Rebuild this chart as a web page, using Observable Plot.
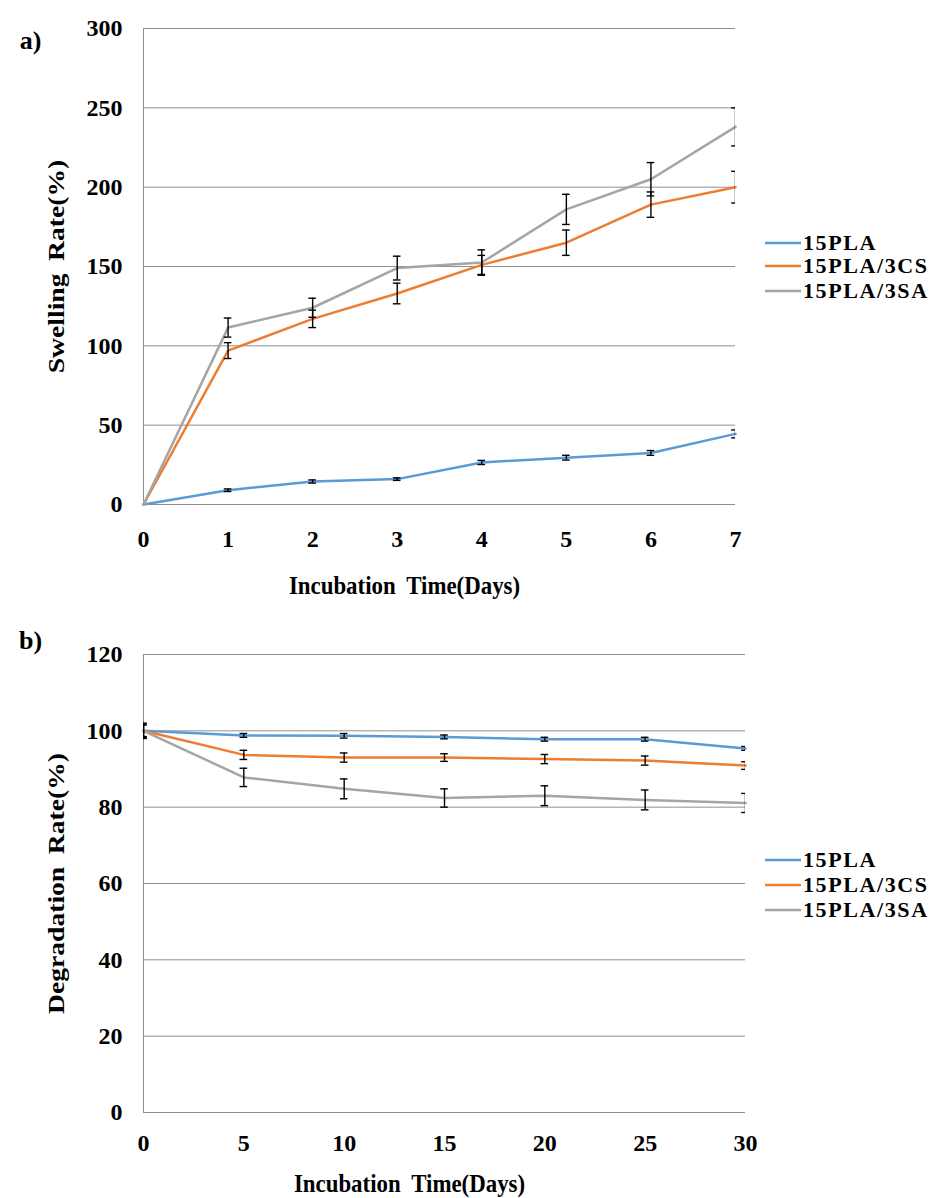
<!DOCTYPE html>
<html>
<head>
<meta charset="utf-8">
<script src="https://cdn.jsdelivr.net/npm/d3@7"></script>
<script src="https://cdn.jsdelivr.net/npm/@observablehq/plot@0.6"></script>
<style>
  body { margin: 0; background: #fff; }
  #wrap { position: relative; width: 933px; height: 1198px; background: #fff; font-family: "Liberation Serif", "Times New Roman", serif; font-weight: bold; }
  .panel { position: absolute; left: 0; }
  .legend-row { position: absolute; height: 24px; display: flex; align-items: center; font-size: 22px; letter-spacing: 1.6px; color: #000; white-space: nowrap; }
  .legend-row svg { margin-right: 2px; }
</style>
</head>
<body>
<div id="wrap"></div>
<script>
// ---- Data ----
const seriesNames = ["15PLA", "15PLA/3CS", "15PLA/3SA"];
const seriesColors = ["#5B9BD5", "#ED7D31", "#A5A5A5"];

// Panel a: swelling rate
const daysA = [0, 1, 2, 3, 4, 5, 6, 7];
const swellPLA    = [0, 9, 14.5, 16, 26.5, 29.5, 32.5, 44.5];
const swellPLAErr = [0, 0.8, 1, 0.8, 1.3, 1.5, 1.5, 2.5];
const swellCS     = [0, 97, 117, 133, 151, 165, 189, 200];
const swellCSErr  = [0, 5, 5.5, 6.5, 6, 8, 8, 10];
const swellSA     = [0, 111.5, 124, 149, 152.5, 186, 205, 238];
const swellSAErr  = [0, 6, 6, 7.5, 8, 9.5, 10.5, 12];
const yTicksA = [0, 50, 100, 150, 200, 250, 300];

// Panel b: degradation rate
const daysB = [0, 5, 10, 15, 20, 25, 30];
const degPLA    = [100, 98.8, 98.7, 98.4, 97.8, 97.8, 95.4];
const degPLAErr = [1.8, 0.5, 0.6, 0.5, 0.5, 0.5, 0.5];
const degCS     = [100, 93.7, 93, 93, 92.6, 92.2, 90.9];
const degCSErr  = [2.0, 1.2, 1.2, 1.0, 1.2, 1.2, 1.0];
const degSA     = [100, 87.8, 84.8, 82.4, 83, 81.9, 81.1];
const degSAErr  = [1.5, 2.4, 2.6, 2.4, 2.6, 2.6, 2.5];
const yTicksB = [0, 20, 40, 60, 80, 100, 120];

// ---- Build tidy rows ----
function rows(days, vals, errs) {
  const out = [];
  vals.forEach((v, s) => days.forEach((d, i) => out.push({series: seriesNames[s], day: d, value: v[i], err: errs[s][i]})));
  return out;
}
const rowsA = rows(daysA, [swellPLA, swellCS, swellSA], [swellPLAErr, swellCSErr, swellSAErr]);
const rowsB = rows(daysB, [degPLA, degCS, degSA], [degPLAErr, degCSErr, degSAErr]);

const gridColor = "#8f8f8f";
const font = "Liberation Serif, Times New Roman, serif";

function panel({data, days, xDomain, yDomain, yTicks, height, mt, mr, mb, cap, xPad, yTitle, tag, xTitleDy, tagDy}) {
  const eb = data.filter(d => d.err > 0);
  return Plot.plot({
    width: 933, height,
    marginLeft: 143, marginRight: mr, marginTop: mt, marginBottom: mb,
    style: {fontFamily: font, fontWeight: "bold", fontSize: "24px", color: "#000", background: "transparent"},
    x: {domain: xDomain, ticks: days, tickFormat: d => String(d), tickSize: 0, tickPadding: xPad, label: null},
    y: {domain: yDomain, ticks: yTicks, tickSize: 0, tickPadding: 21, label: null},
    color: {domain: seriesNames, range: seriesColors},
    marks: [
      Plot.gridY(yTicks, {stroke: gridColor, strokeOpacity: 1, strokeWidth: 1}),
      Plot.ruleX([xDomain[0]], {stroke: gridColor, strokeWidth: 1}),
      Plot.ruleY([0], {stroke: gridColor, strokeWidth: 1}),
      Plot.line(data, {x: "day", y: "value", z: "series", stroke: "series", strokeWidth: 2.5}),
      Plot.ruleX(eb, {x: "day", y1: d => d.value - d.err, y2: d => d.value + d.err, stroke: "#000", strokeWidth: 1.4, clip: true}),
      Plot.ruleY(eb, {x1: d => d.day - cap, x2: d => d.day + cap, y: d => d.value - d.err, stroke: "#000", strokeWidth: 1.4, clip: true}),
      Plot.ruleY(eb, {x1: d => d.day - cap, x2: d => d.day + cap, y: d => d.value + d.err, stroke: "#000", strokeWidth: 1.4, clip: true}),
      Plot.text([yTitle], {frameAnchor: "left", dx: -87, rotate: -90, textAnchor: "middle", lineAnchor: "middle", fontSize: 24, fontWeight: "bold", fill: "#000", className: "ytitle"}),
      Plot.text(["Incubation Time(Days)"], {frameAnchor: "bottom", dx: -35, dy: xTitleDy, textAnchor: "middle", lineAnchor: "middle", fontSize: 26, fontWeight: "bold", fill: "#000", className: "xtitle"}),
      Plot.text([tag], {frameAnchor: "top-left", dx: -113, dy: tagDy, textAnchor: "middle", lineAnchor: "middle", fontSize: 26, fontWeight: "bold", fill: "#000"})
    ]
  });
}

// stretch/condense a text element around its own anchor
function rescale(svg, cls, sx, sy, wordSpacing) {
  svg.querySelectorAll(`.${cls} text`).forEach(t => {
    let tr = t.getAttribute("transform");
    if (!tr || !/translate/.test(tr)) {
      const x = t.getAttribute("x") || 0, y = t.getAttribute("y") || 0;
      t.removeAttribute("x"); t.removeAttribute("y");
      tr = `translate(${x},${y})` + (tr ? " " + tr : "");
    }
    t.setAttribute("transform", `${tr} scale(${sx},${sy})`);
    if (wordSpacing) t.style.wordSpacing = wordSpacing;
  });
}

const wrap = document.getElementById("wrap");

const plotA = panel({
  data: rowsA, days: daysA, xDomain: [0, 7], yDomain: [0, 300], yTicks: yTicksA,
  height: 600, mt: 28, mr: 198, mb: 96, cap: 0.045, xPad: 25,
  yTitle: "Swelling Rate(%)", tag: "a)", xTitleDy: 81, tagDy: 12
});
plotA.classList.add("panel");
plotA.style.top = "0px";
wrap.appendChild(plotA);

const plotB = panel({
  data: rowsB, days: daysB, xDomain: [0, 30], yDomain: [0, 120], yTicks: yTicksB,
  height: 598, mt: 54, mr: 188, mb: 86, cap: 0.19, xPad: 21,
  yTitle: "Degradation Rate(%)", tag: "b)", xTitleDy: 71, tagDy: -14
});
plotB.classList.add("panel");
plotB.style.top = "600px";
wrap.appendChild(plotB);

[plotA, plotB].forEach(svg => {
  rescale(svg, "ytitle", 1.15, 1, "5px");
  rescale(svg, "xtitle", 0.88, 1, "6px");
});

// ---- Legends ----
function legend(left, centers) {
  seriesNames.forEach((name, i) => {
    const row = document.createElement("div");
    row.className = "legend-row";
    row.style.left = left + "px";
    row.style.top = (centers[i] - 12) + "px";
    row.innerHTML = `<svg width="36" height="6"><line x1="0" y1="3" x2="36" y2="3" stroke="${seriesColors[i]}" stroke-width="2.5"/></svg><span>${name}</span>`;
    wrap.appendChild(row);
  });
}
legend(765, [243, 266, 291]);
legend(765, [860, 885, 910]);
</script>
</body>
</html>
